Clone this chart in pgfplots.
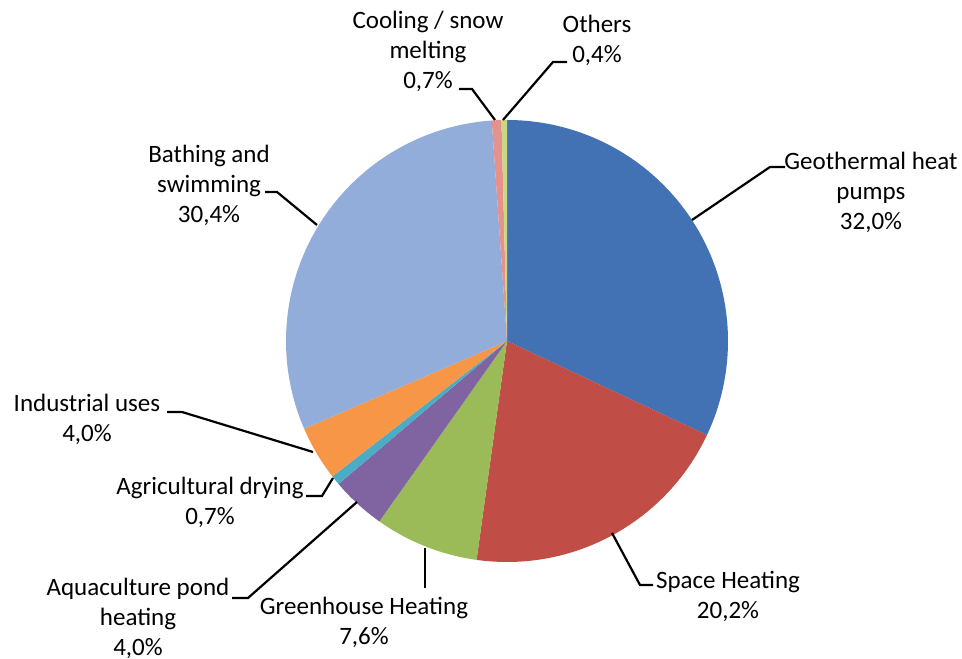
\documentclass[border=0pt]{standalone}
\usepackage{pgfplots}
\pgfplotsset{compat=1.18}
\usepackage{fontspec}
\setmainfont{Carlito}
\definecolor{cGeo}{RGB}{66,114,180}
\definecolor{cSpace}{RGB}{192,78,70}
\definecolor{cGreen}{RGB}{155,187,89}
\definecolor{cAqua}{RGB}{128,100,162}
\definecolor{cAgri}{RGB}{75,172,198}
\definecolor{cInd}{RGB}{247,150,70}
\definecolor{cBath}{RGB}{146,173,217}
\definecolor{cCool}{RGB}{229,145,140}
\definecolor{cOther}{RGB}{200,215,130}
% pie geometry (picture units: 1 unit = 1 px of the reference, y upwards)
\def\cx{507}
\def\cy{318}
\def\R{221}
\gdef\cum{0}
\newcommand\slice[2]{%
  \pgfmathsetmacro\aE{90-3.6*\cum}%
  \pgfmathsetmacro\newcum{\cum+#1}%
  \pgfmathsetmacro\aS{90-3.6*\newcum}%
  \global\let\cum\newcum
  \addplot[fill=#2,draw=none,domain=\aS:\aE,samples=120]
    ({\cx+\R*cos(x)},{\cy+\R*sin(x)}) -- (axis cs:\cx,\cy) -- cycle;
}
\begin{document}
\begin{tikzpicture}
\begin{axis}[hide axis, x=0.5bp, y=0.5bp, xmin=0, xmax=962, ymin=0, ymax=659,
  clip=false, scale only axis]
% slices, clockwise from 12 o'clock: value in %
\slice{32.0}{cGeo}    % Geothermal heat pumps
\slice{20.2}{cSpace}  % Space Heating
\slice{7.6}{cGreen}   % Greenhouse Heating
\slice{4.0}{cAqua}    % Aquaculture pond heating
\slice{0.7}{cAgri}    % Agricultural drying
\slice{4.0}{cInd}     % Industrial uses
\slice{30.4}{cBath}   % Bathing and swimming
\slice{0.7}{cCool}    % Cooling / snow melting
\slice{0.4}{cOther}   % Others
% leader lines
\pgfplotsset{every axis plot/.append style={}}
\addplot[black,line width=1.1bp] coordinates {(459,570) (472,570) (495,539)};
\addplot[black,line width=1.1bp] coordinates {(567,597) (553,597) (503,539)};
\addplot[black,line width=1.1bp] coordinates {(785,492) (770,492) (692,439)};
\addplot[black,line width=1.1bp] coordinates {(612,126) (640,74) (653,74)};
\addplot[black,line width=1.1bp] coordinates {(425,111) (425,71)};
\addplot[black,line width=1.1bp] coordinates {(357,157) (248,61) (232,61)};
\addplot[black,line width=1.1bp] coordinates {(333,181) (322,163) (306,163)};
\addplot[black,line width=1.1bp] coordinates {(313,207) (182,247) (167,247)};
\addplot[black,line width=1.1bp] coordinates {(317,434) (277,467) (265,467)};
% labels
\tikzset{lab/.style={align=center,inner sep=0pt,font=\fontsize{12.5bp}{15bp}\selectfont}}
\node[lab] at (axis cs:428,608) {Cooling / snow\\melting\\0,7\%};
\node[lab] at (axis cs:597,619) {Others\\0,4\%};
\node[lab] at (axis cs:871,467) {Geothermal heat\\pumps\\32,0\%};
\node[lab] at (axis cs:728,63) {Space Heating\\20,2\%};
\node[lab] at (axis cs:364,37) {Greenhouse Heating\\7,6\%};
\node[lab] at (axis cs:138,41) {Aquaculture pond\\heating\\4,0\%};
\node[lab] at (axis cs:210,157) {Agricultural drying\\0,7\%};
\node[lab] at (axis cs:87,240) {Industrial uses\\4,0\%};
\node[lab] at (axis cs:209,474) {Bathing and\\swimming\\30,4\%};
\end{axis}
\pgfresetboundingbox
\path (current axis.south west) rectangle (current axis.north east);
\end{tikzpicture}
\end{document}
